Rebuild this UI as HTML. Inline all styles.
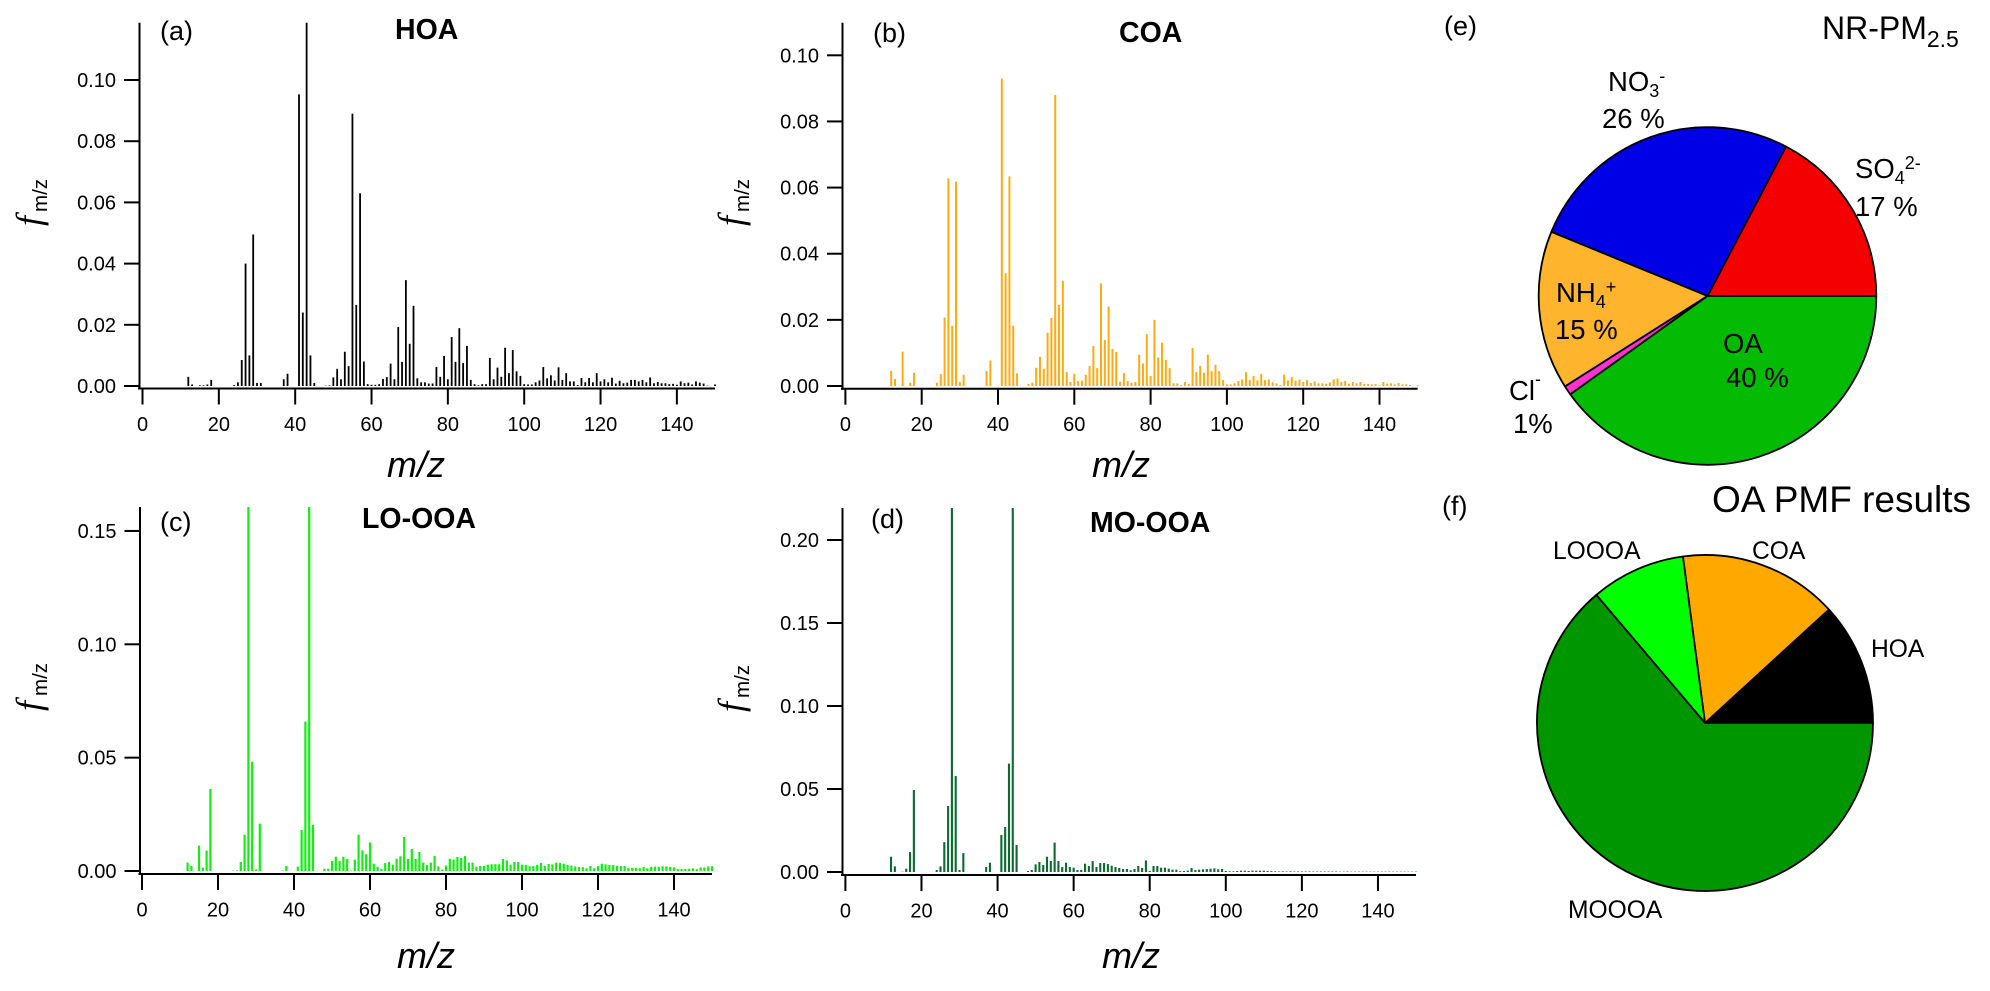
<!DOCTYPE html>
<html lang="en">
<head>
<meta charset="utf-8">
<title>AMS mass spectra and NR-PM2.5 composition</title>
<style>
html,body{margin:0;padding:0;background:#fff;width:1990px;height:991px;overflow:hidden}
svg{display:block}
text{font-family:"Liberation Sans",sans-serif;fill:#000}
.pl{font-size:27px}
.ttl{font-size:28.5px;font-weight:bold}
.xt{font-size:36px;font-style:italic}
.ff{font-family:"Liberation Serif",serif;font-style:italic;font-size:36px}
.fs{font-size:20.5px}
.tk{font-size:20px}
.pc{font-size:27.5px}
.pf{font-size:24.6px}
</style>
</head>
<body>
<svg id="figure" xmlns="http://www.w3.org/2000/svg" width="1990" height="991" viewBox="0 0 1990 991">
  <rect x="0" y="0" width="1990" height="991" fill="#fff"/>

  <text class="pl" x="160" y="40">(a)</text>
  <text class="pl" x="873" y="42">(b)</text>
  <text class="pl" x="160" y="531">(c)</text>
  <text class="pl" x="871" y="528">(d)</text>
  <text class="pl" x="1444" y="35">(e)</text>
  <text class="pl" x="1442" y="515">(f)</text>

  <text class="ttl" x="395" y="39">HOA</text>
  <text class="ttl" x="1119" y="42">COA</text>
  <text class="ttl" x="362" y="528">LO-OOA</text>
  <text class="ttl" x="1090" y="532">MO-OOA</text>

  <text class="xt" x="387" y="477">m/z</text>
  <text class="xt" x="1092" y="477">m/z</text>
  <text class="xt" x="397" y="968">m/z</text>
  <text class="xt" x="1102" y="968">m/z</text>

  <g>
    <text class="ff" transform="translate(41,226) rotate(-90)">f</text>
    <text class="fs" transform="translate(47,212) rotate(-90)">m/z</text>
  </g>
  <g>
    <text class="ff" transform="translate(743,226) rotate(-90)">f</text>
    <text class="fs" transform="translate(749,212) rotate(-90)">m/z</text>
  </g>
  <g>
    <text class="ff" transform="translate(41,711) rotate(-90)">f</text>
    <text class="fs" transform="translate(47,696) rotate(-90)">m/z</text>
  </g>
  <g>
    <text class="ff" transform="translate(743,712) rotate(-90)">f</text>
    <text class="fs" transform="translate(749,698) rotate(-90)">m/z</text>
  </g>

  <g id="panels"></g>
  <g id="pies"></g>

  <text x="1822" y="39" font-size="32">NR-PM<tspan font-size="23" dy="8">2.5</tspan></text>
  <text x="1712" y="512" font-size="37">OA PMF results</text>

  <g>
    <text class="pc" x="1608" y="91">NO<tspan font-size="18" dy="6">3</tspan><tspan font-size="18" dy="-15">-</tspan></text>
    <text class="pc" x="1602" y="128">26 %</text>
  </g>
  <g>
    <text class="pc" x="1855" y="178">SO<tspan font-size="18" dy="6">4</tspan><tspan font-size="18" dy="-15">2-</tspan></text>
    <text class="pc" x="1855" y="216">17 %</text>
  </g>
  <g>
    <text class="pc" x="1556" y="302">NH<tspan font-size="18" dy="6">4</tspan><tspan font-size="18" dy="-15">+</tspan></text>
    <text class="pc" x="1555" y="339">15 %</text>
  </g>
  <g>
    <text class="pc" x="1723" y="353">OA</text>
    <text class="pc" x="1726" y="387">40 %</text>
  </g>
  <g>
    <text class="pc" x="1509" y="400">Cl<tspan font-size="18" dy="-15">-</tspan></text>
    <text class="pc" x="1513" y="433">1%</text>
  </g>

  <text class="pf" x="1553" y="559">LOOOA</text>
  <text class="pf" x="1752" y="559">COA</text>
  <text class="pf" x="1871" y="657">HOA</text>
  <text class="pf" x="1568" y="918">MOOOA</text>
</svg>

<script>
// Spectra values: one entry per integer m/z, starting at firstMz
const firstMz = 12;
const xTickValues = [0, 20, 40, 60, 80, 100, 120, 140];
const yTicksHoa = [0, 0.02, 0.04, 0.06, 0.08, 0.10];
const yTicksCoa = [0, 0.02, 0.04, 0.06, 0.08, 0.10];
const yTicksLo = [0, 0.05, 0.10, 0.15];
const yTicksMo = [0, 0.05, 0.10, 0.15, 0.20];

const hoaValues = [
  .003,.0005,0,.0002,.0002,.0005,.002,0,
  0,0,0,0,.0003,.0012,.0085,.04,.01,.0495,
  .001,.001,0,0,0,0,0,.0022,.004,0,
  0,.0953,.024,.119,.01,.001,0,0,.0001,.0002,
  .0028,.0056,.0022,.0112,.0065,.089,.0265,.063,.008,.0006,
  .0004,.0004,.0006,.0023,.0029,.0073,.0022,.0193,.0079,.0346,
  .0138,.0262,.0025,.0012,.0012,.0008,.0008,.0062,.003,.0098,
  .0022,.016,.0079,.0189,.0075,.0131,.002,.0006,.0002,.0006,
  .0006,.0092,.0022,.006,.003,.0125,.0042,.0118,.0048,.0033,
  .0006,.0005,.0005,.0012,.0018,.0062,.0025,.0035,.0018,.0061,
  .002,.0042,.0015,.0015,.0003,.0026,.0012,.0026,.0012,.0042,
  .0015,.0022,.0012,.0027,.0008,.0017,.0009,.0011,.002,.002,
  .0015,.002,.0012,.0028,.0009,.0013,.0009,.0009,.0006,.0007,
  .0004,.0015,.0009,.0011,.0005,.0015,.0011,.0008,.0001,0,.0005
];
const coaValues = [
  .0046,.0021,0,.0104,0,.001,.004,0,
  0,0,0,0,.001,.0036,.0207,.0628,.0182,.0618,
  .0012,.0034,0,0,0,0,0,.0045,.0077,0,
  0,.093,.0341,.0634,.0182,.0038,0,0,.0006,.001,
  .0055,.0088,.0052,.0161,.0206,.088,.0245,.0318,.0042,.0012,
  .0037,.0015,.0016,.0034,.006,.0121,.0054,.031,.0139,.024,
  .0112,.0103,.0013,.0039,.0015,.001,.0012,.0095,.0068,.0157,
  .003,.02,.0086,.0131,.0079,.0054,.0008,.0008,.0003,.0012,
  .0006,.0115,.0042,.0061,.004,.0095,.0045,.0064,.0045,.0018,
  .0005,.0005,.0008,.0015,.002,.0042,.0018,.003,.0017,.0037,
  .0018,.002,.0011,.0008,.0003,.0034,.0017,.0027,.0016,.0019,
  .0012,.0018,.0009,.0014,.0008,.0008,.0007,.0011,.002,.0023,
  .0012,.0015,.0007,.0012,.0008,.0012,.0006,.0006,.0005,.0006,
  .0002,.0012,.0007,.0008,.0005,.0009,.0005,.0005,.0003,0,.0003
];
const loOoaValues = [
  .0037,.0022,0,.0112,.0015,.009,.0362,0,
  0,0,0,0,.0002,.0003,.004,.016,.165,.0482,
  .0007,.0209,0,0,0,0,0,.0002,.0022,0,
  0,.0019,.0181,.0659,.165,.0203,0,0,.001,.001,
  .0044,.0063,.0044,.0063,.0053,.0002,.005,.016,.0091,.0074,
  .0126,.0032,.0019,.0009,.0035,.004,.0028,.0054,.0065,.015,
  .0053,.0097,.0053,.0084,.0037,.0026,.0037,.0066,.002,.0006,
  .0024,.0054,.005,.0062,.0057,.0066,.0037,.0037,.0019,.0022,
  .0022,.0028,.003,.003,.003,.0053,.0047,.0028,.004,.004,
  .0028,.0027,.0021,.0022,.0027,.0036,.0023,.0031,.0029,.0037,
  .0035,.0032,.0027,.0024,.002,.0018,.0017,.0012,.0022,.0012,
  .0022,.0032,.0029,.0027,.0026,.0023,.0022,.0022,.0013,.0013,
  .0013,.0012,.0018,.0012,.0019,.0019,.0019,.0021,.002,.0018,
  .0016,.0009,.0009,.0009,.001,.0012,.0008,.0016,.0016,.002,.0021
];
const moOoaValues = [
  .0092,.0034,0,.0002,.002,.012,.0494,0,
  0,0,0,0,.0012,.0034,.018,.0398,.225,.0578,
  .0012,.0114,0,0,0,0,0,.003,.0056,0,
  0,.0223,.0271,.0653,.225,.0163,0,0,.0006,.0012,
  .0046,.006,.0042,.0092,.0066,.0177,.0066,.003,.0056,.003,
  .0026,.0012,.0012,.005,.0036,.0066,.003,.0054,.0054,.0048,
  .0038,.003,.0024,.0018,.0018,.001,.0018,.0036,.0024,.007,
  .0006,.0036,.0036,.0026,.0026,.002,.0014,.0014,.0005,.0006,
  .0008,.0024,.0012,.0014,.0016,.0018,.002,.0022,.0016,.0018,
  .0006,.0004,.0004,.0006,.0008,.0008,.0006,.0008,.0008,.0008,
  .0008,.0006,.0005,.0004,.0003,.0004,.0003,.0004,.0003,.0003,
  .0003,.0003,.0003,.0003,.0003,.0003,.0003,.0003,.0003,.0003,
  .0002,.0002,.0003,.0002,.0002,.0002,.0002,.0002,.0002,.0002,
  .0002,.0002,.0002,.0002,.0002,.0002,.0002,.0002,.0002,.0002,.0002
];

// Pie values in percent, counter-clockwise from 3 o'clock
const pmCategories = ['so4', 'no3', 'nh4', 'cl', 'oa'];
const pmValues = [17.3, 26.5, 15.2, 0.9, 40.1];
const pmColors = ['#f40000', '#0000e6', '#ffb42d', '#ff30d0', '#04bb04'];
const oaCategories = ['hoa', 'coa', 'lo-ooa', 'mo-ooa'];
const oaValues = [11.8, 15.3, 9.1, 63.8];
const oaColors = ['#000000', '#ffa800', '#00ff00', '#009600'];

const NS = 'http://www.w3.org/2000/svg';

function drawSpectrum(id, values, ticks, color, barW, g) {
  const xScale = m => g.x0 + g.kx * m;
  const yScale = v => g.y0 - g.ky * v;
  const parent = document.getElementById('panels');

  const group = document.createElementNS(NS, 'g');
  
  
  parent.appendChild(group);

  const clip = document.createElementNS(NS, 'clipPath');
  clip.setAttribute('id', 'clip-' + id);
  const clipRect = document.createElementNS(NS, 'rect');
  clipRect.setAttribute('x', g.ax - 1);
  clipRect.setAttribute('y', g.top);
  clipRect.setAttribute('width', xScale(152) - g.ax);
  clipRect.setAttribute('height', g.y0 - g.top + 1);
  clip.appendChild(clipRect);
  group.appendChild(clip);

  const bars = document.createElementNS(NS, 'g');
  bars.setAttribute('clip-path', 'url(#clip-' + id + ')');
  
  
  group.appendChild(bars);

  values.forEach(function (v, i) {
    if (v <= 0) return;
    const mz = firstMz + i;
    const bar = document.createElementNS(NS, 'rect');
    
    
    bar.setAttribute('x', xScale(mz) - barW / 2);
    bar.setAttribute('y', yScale(v));
    bar.setAttribute('width', barW);
    bar.setAttribute('height', g.y0 - yScale(v));
    bar.setAttribute('fill', color);
    bars.appendChild(bar);
  });

  const yAxis = document.createElementNS(NS, 'line');
  
  
  yAxis.setAttribute('x1', g.ax);
  yAxis.setAttribute('x2', g.ax);
  yAxis.setAttribute('y1', g.top);
  yAxis.setAttribute('y2', g.xa + 1);
  yAxis.setAttribute('stroke', '#000');
  yAxis.setAttribute('stroke-width', 2);
  group.appendChild(yAxis);

  const xAxis = document.createElementNS(NS, 'line');
  
  
  xAxis.setAttribute('x1', g.ax - 1.5);
  xAxis.setAttribute('x2', xScale(150));
  xAxis.setAttribute('y1', g.xa);
  xAxis.setAttribute('y2', g.xa);
  xAxis.setAttribute('stroke', '#000');
  xAxis.setAttribute('stroke-width', 2);
  group.appendChild(xAxis);

  ticks.forEach(function (t) {
    const tick = document.createElementNS(NS, 'line');
    
    
    tick.setAttribute('x1', g.ax - 15.5);
    tick.setAttribute('x2', g.ax);
    tick.setAttribute('y1', yScale(t));
    tick.setAttribute('y2', yScale(t));
    tick.setAttribute('stroke', '#000');
    tick.setAttribute('stroke-width', 2);
    group.appendChild(tick);

    const label = document.createElementNS(NS, 'text');
    
    
    label.setAttribute('class', 'tk');
    label.setAttribute('x', g.ax - 23.5);
    label.setAttribute('y', yScale(t) + 7);
    label.setAttribute('text-anchor', 'end');
    label.textContent = t.toFixed(2);
    group.appendChild(label);
  });

  xTickValues.forEach(function (t) {
    const tick = document.createElementNS(NS, 'line');
    
    
    tick.setAttribute('x1', xScale(t));
    tick.setAttribute('x2', xScale(t));
    tick.setAttribute('y1', g.xa);
    tick.setAttribute('y2', g.xa + 16);
    tick.setAttribute('stroke', '#000');
    tick.setAttribute('stroke-width', 2);
    group.appendChild(tick);

    const label = document.createElementNS(NS, 'text');
    
    
    label.setAttribute('class', 'tk');
    label.setAttribute('x', xScale(t));
    label.setAttribute('y', g.xa + 42.5);
    label.setAttribute('text-anchor', 'middle');
    label.textContent = String(t);
    group.appendChild(label);
  });
}

function drawPie(id, categories, values, colors, cx, cy, r) {
  const parent = document.getElementById('pies');
  const total = values.reduce((a, b) => a + b, 0);
  let start = 0;
  values.forEach(function (v, i) {
    const end = start + v / total * 2 * Math.PI;
    const x1 = cx + r * Math.cos(start), y1 = cy - r * Math.sin(start);
    const x2 = cx + r * Math.cos(end), y2 = cy - r * Math.sin(end);
    const large = end - start > Math.PI ? 1 : 0;
    const slice = document.createElementNS(NS, 'path');
    
    
    slice.setAttribute('d', 'M' + cx + ' ' + cy + ' L' + x1 + ' ' + y1 + ' A' + r + ' ' + r + ' 0 ' + large + ' 0 ' + x2 + ' ' + y2 + ' Z');
    slice.setAttribute('fill', colors[i]);
    slice.setAttribute('stroke', '#000');
    slice.setAttribute('stroke-width', 1.8);
    slice.setAttribute('stroke-linejoin', 'round');
    parent.appendChild(slice);
    start = end;
  });
}

drawSpectrum('hoa', hoaValues, yTicksHoa, '#000000', 1.8, {x0: 142.5, kx: 3.817, y0: 386, ky: 3060, top: 22.7, ax: 139.5, xa: 388.5});
drawSpectrum('coa', coaValues, yTicksCoa, '#ffaa11', 2, {x0: 845.4, kx: 3.815, y0: 386, ky: 3307, top: 22.7, ax: 842.5, xa: 388.7});
drawSpectrum('lo-ooa', loOoaValues, yTicksLo, '#11ee11', 2.2, {x0: 142, kx: 3.80, y0: 871, ky: 2267, top: 507, ax: 140, xa: 874});
drawSpectrum('mo-ooa', moOoaValues, yTicksMo, '#0a6b30', 2.1, {x0: 845.4, kx: 3.804, y0: 872, ky: 1660, top: 508, ax: 842.5, xa: 875});

drawPie('nr-pm', pmCategories, pmValues, pmColors, 1707.5, 296, 168.8);
drawPie('oa-pmf', oaCategories, oaValues, oaColors, 1705, 723, 168);
</script>
</body>
</html>
